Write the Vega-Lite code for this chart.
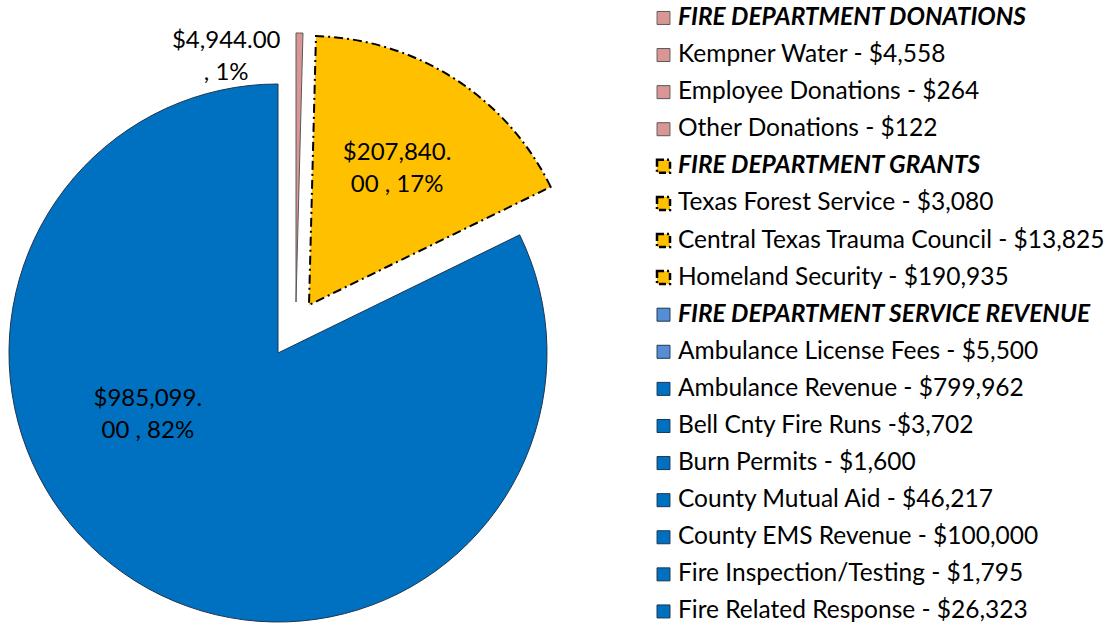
{
  "$schema": "https://vega.github.io/schema/vega-lite/v6.json",
  "width": 1112,
  "height": 628,
  "padding": 0,
  "autosize": {"type": "none"},
  "background": "white",
  "config": {"view": {"stroke": null}, "font": "Lato"},
  "datasets": {
    "slices": [
      {"cat": "FIRE DEPARTMENT DONATIONS", "amount": 4944, "label": "$4,944.00\n, 1%"},
      {"cat": "FIRE DEPARTMENT GRANTS", "amount": 207840, "label": "$207,840.\n00 , 17%"},
      {"cat": "FIRE DEPARTMENT SERVICE REVENUE", "amount": 985099, "label": "$985,099.\n00 , 82%"}
    ],
    "items": [
      {"item": "FIRE DEPARTMENT DONATIONS", "grp": "don", "hdr": true},
      {"item": "Kempner Water - $4,558", "grp": "don", "hdr": false},
      {"item": "Employee Donations - $264", "grp": "don", "hdr": false},
      {"item": "Other Donations - $122", "grp": "don", "hdr": false},
      {"item": "FIRE DEPARTMENT GRANTS", "grp": "gra", "hdr": true},
      {"item": "Texas Forest Service - $3,080", "grp": "gra", "hdr": false},
      {"item": "Central Texas Trauma Council - $13,825", "grp": "gra", "hdr": false},
      {"item": "Homeland Security - $190,935", "grp": "gra", "hdr": false},
      {"item": "FIRE DEPARTMENT SERVICE REVENUE", "grp": "amb", "hdr": true},
      {"item": "Ambulance License Fees - $5,500", "grp": "amb", "hdr": false},
      {"item": "Ambulance Revenue - $799,962", "grp": "svc", "hdr": false},
      {"item": "Bell Cnty Fire Runs -$3,702", "grp": "svc", "hdr": false},
      {"item": "Burn Permits - $1,600", "grp": "svc", "hdr": false},
      {"item": "County Mutual Aid - $46,217", "grp": "svc", "hdr": false},
      {"item": "County EMS Revenue - $100,000", "grp": "svc", "hdr": false},
      {"item": "Fire Inspection/Testing - $1,795", "grp": "svc", "hdr": false},
      {"item": "Fire Related Response - $26,323", "grp": "svc", "hdr": false}
    ]
  },
  "layer": [
    {
      "data": {"name": "slices"},
      "layer": [
        {
          "mark": {"type": "arc", "x": 278, "y": 353, "outerRadius": 269, "stroke": "#1f3550", "strokeWidth": 1},
          "encoding": {
            "theta": {"field": "amount", "type": "quantitative", "stack": true},
            "order": {"field": "cat", "sort": "ascending"},
            "color": {"field": "cat", "type": "nominal", "legend": null,
              "scale": {"domain": ["FIRE DEPARTMENT DONATIONS", "FIRE DEPARTMENT GRANTS", "FIRE DEPARTMENT SERVICE REVENUE"], "range": ["#D99694", "#FFC000", "#0070C0"]}},
            "opacity": {"condition": {"test": "datum.cat === 'FIRE DEPARTMENT SERVICE REVENUE'", "value": 1}, "value": 0}
          }
        },
        {
          "mark": {"type": "arc", "x": 296, "y": 302, "outerRadius": 269, "stroke": "#595959", "strokeWidth": 1},
          "encoding": {
            "theta": {"field": "amount", "type": "quantitative", "stack": true},
            "order": {"field": "cat", "sort": "ascending"},
            "color": {"field": "cat", "type": "nominal", "legend": null},
            "opacity": {"condition": {"test": "datum.cat === 'FIRE DEPARTMENT DONATIONS'", "value": 1}, "value": 0}
          }
        },
        {
          "mark": {"type": "arc", "x": 309, "y": 305, "outerRadius": 269, "stroke": "#000000", "strokeWidth": 2, "strokeDash": [9, 4, 2, 4]},
          "encoding": {
            "theta": {"field": "amount", "type": "quantitative", "stack": true},
            "order": {"field": "cat", "sort": "ascending"},
            "color": {"field": "cat", "type": "nominal", "legend": null},
            "opacity": {"condition": {"test": "datum.cat === 'FIRE DEPARTMENT GRANTS'", "value": 1}, "value": 0}
          }
        },
        {
          "mark": {"type": "text", "x": 278, "y": 353, "radius": 142, "dx": -55, "dy": -74, "lineBreak": "\n", "fontSize": 24, "lineHeight": 32, "align": "center", "baseline": "middle", "color": "#000000"},
          "encoding": {
            "theta": {"field": "amount", "type": "quantitative", "stack": true},
            "order": {"field": "cat", "sort": "ascending"},
            "text": {"condition": {"test": "datum.cat === 'FIRE DEPARTMENT SERVICE REVENUE'", "field": "label"}, "value": ""}
          }
        },
        {
          "mark": {"type": "text", "x": 309, "y": 305, "radius": 163, "dy": -15, "lineBreak": "\n", "fontSize": 24, "lineHeight": 32, "align": "center", "baseline": "middle", "color": "#000000"},
          "encoding": {
            "theta": {"field": "amount", "type": "quantitative", "stack": true},
            "order": {"field": "cat", "sort": "ascending"},
            "text": {"condition": {"test": "datum.cat === 'FIRE DEPARTMENT GRANTS'", "field": "label"}, "value": ""}
          }
        },
        {
          "mark": {"type": "text", "x": 296, "y": 302, "radius": 247, "dx": -73, "dy": -14, "lineBreak": "\n", "fontSize": 24, "lineHeight": 32, "align": "center", "baseline": "middle", "color": "#000000"},
          "encoding": {
            "theta": {"field": "amount", "type": "quantitative", "stack": true},
            "order": {"field": "cat", "sort": "ascending"},
            "text": {"condition": {"test": "datum.cat === 'FIRE DEPARTMENT DONATIONS'", "field": "label"}, "value": ""}
          }
        }
      ]
    },
    {
      "data": {"name": "items"},
      "encoding": {
        "y": {"field": "item", "type": "ordinal", "sort": null, "axis": null, "scale": {"type": "point", "padding": 0.465, "align": 0.52}}
      },
      "layer": [
        {
          "mark": {"type": "square", "size": 169, "opacity": 1},
          "encoding": {
            "x": {"value": 663.5},
            "fill": {"field": "grp", "type": "nominal", "legend": null,
              "scale": {"domain": ["don", "gra", "svc", "amb"], "range": ["#D99694", "#FFC000", "#0070C0", "#558ED5"]}},
            "stroke": {"field": "grp", "type": "nominal", "legend": null,
              "scale": {"domain": ["don", "gra", "svc", "amb"], "range": ["#595959", "#000000", "#1f3550", "#1f3550"]}},
            "strokeDash": {"field": "grp", "type": "nominal", "legend": null,
              "scale": {"domain": ["don", "gra", "svc", "amb"], "range": [[1, 0], [7, 3, 2, 3], [1, 0], [1, 0]]}},
            "strokeWidth": {"condition": {"test": "datum.grp === 'gra'", "value": 2.5}, "value": 1}
          }
        },
        {
          "mark": {"type": "text", "align": "left", "baseline": "middle", "fontSize": 24.5, "fontWeight": "bold", "fontStyle": "italic", "color": "#000000"},
          "encoding": {
            "x": {"value": 678},
            "text": {"condition": {"test": "datum.hdr", "field": "item"}, "value": ""}
          }
        },
        {
          "mark": {"type": "text", "align": "left", "baseline": "middle", "fontSize": 24.5, "color": "#000000"},
          "encoding": {
            "x": {"value": 678},
            "text": {"condition": {"test": "!datum.hdr", "field": "item"}, "value": ""}
          }
        }
      ]
    }
  ]
}
